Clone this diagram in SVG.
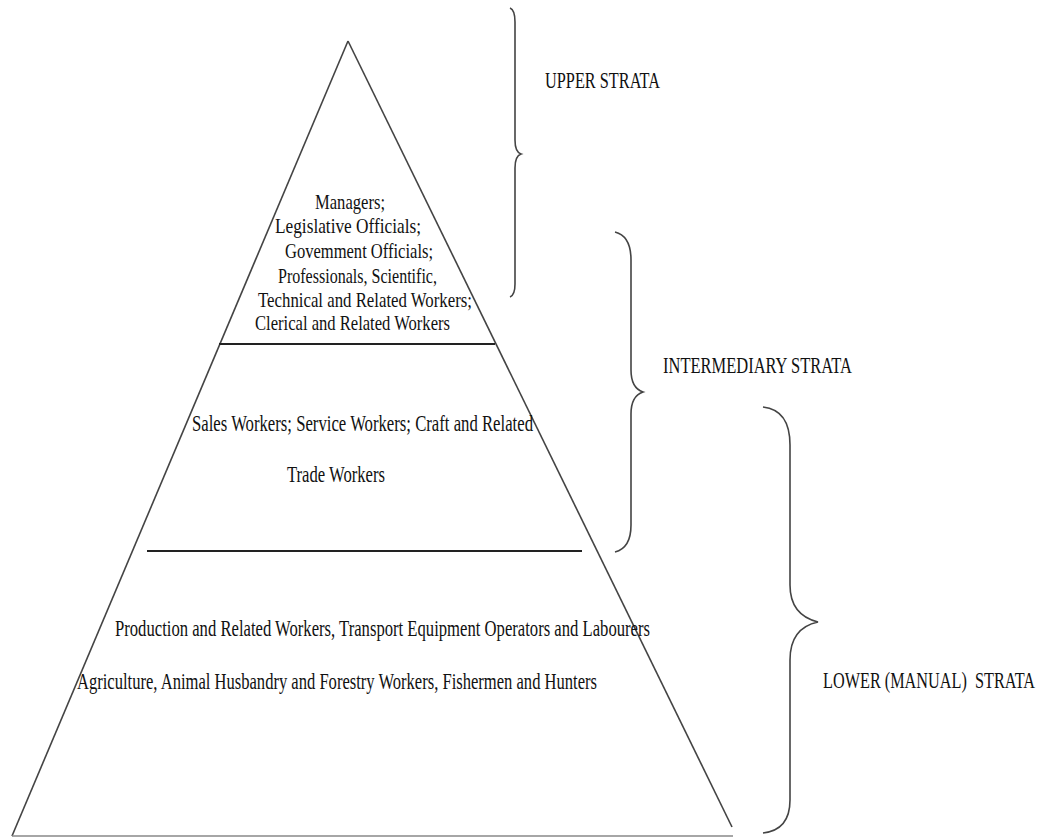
<svg xmlns="http://www.w3.org/2000/svg" width="1050" height="837" viewBox="0 0 1050 837">
<style>
.t{font-family:"Liberation Serif","Times New Roman",serif;font-size:24px;fill:#111;}
.u{font-size:22px;}
.edge{stroke:#444;stroke-width:1.6;fill:none;}
.div{stroke:#222;stroke-width:2.2;fill:none;}
.brace{stroke:#444;stroke-width:1.6;fill:none;}
</style>
<rect width="1050" height="837" fill="#fff"/>
<g id="pyramid">
<line class="edge" x1="348" y1="41" x2="12" y2="836"/>
<line class="edge" x1="348" y1="41" x2="732" y2="827"/>
<line x1="12" y1="836" x2="733" y2="836" stroke="#888" stroke-width="1.6"/>
<line class="div" x1="219" y1="344" x2="495" y2="344"/>
<line class="div" x1="147" y1="551" x2="582" y2="551"/>
</g>
<g id="tier-upper">
<text class="t u" x="315" y="209" textLength="70" lengthAdjust="spacingAndGlyphs">Managers;</text>
<text class="t u" x="275" y="233" textLength="146" lengthAdjust="spacingAndGlyphs">Legislative Officials;</text>
<text class="t u" x="285" y="258" textLength="148" lengthAdjust="spacingAndGlyphs">Govemment Officials;</text>
<text class="t u" x="278" y="283" textLength="159" lengthAdjust="spacingAndGlyphs">Professionals, Scientific,</text>
<text class="t u" x="258" y="307" textLength="214" lengthAdjust="spacingAndGlyphs">Technical and Related Workers;</text>
<text class="t u" x="255" y="330" textLength="195" lengthAdjust="spacingAndGlyphs">Clerical and Related Workers</text>
</g>
<g id="tier-intermediary">
<text class="t" x="192" y="431" textLength="341" lengthAdjust="spacingAndGlyphs">Sales Workers; Service Workers; Craft and Related</text>
<text class="t" x="287" y="482" textLength="98" lengthAdjust="spacingAndGlyphs">Trade Workers</text>
</g>
<g id="tier-lower">
<text class="t" x="115" y="636" textLength="535" lengthAdjust="spacingAndGlyphs">Production and Related Workers, Transport Equipment Operators and Labourers</text>
<text class="t" x="77" y="689" textLength="520" lengthAdjust="spacingAndGlyphs">Agriculture,  Animal Husbandry and Forestry Workers, Fishermen and Hunters</text>
</g>
<g id="connectors">
<path class="brace" d="M510,8 Q515,10 515,22 L515,140 Q515,152 521,154 Q515,156 515,168 L515,284 Q515,295 510,297"/>
<path class="brace" d="M615,232 Q631,236 631,260 L631,370 Q631,388 643,392 Q631,396 631,414 L631,525 Q631,548 615,552"/>
<path class="brace" d="M763,407 Q790,410 790,445 L790,585 Q790,615 818,622 Q790,628 790,660 L790,800 Q790,830 763,833"/>
</g>
<g id="label-upper">
<text class="t" x="545" y="88" textLength="115" lengthAdjust="spacingAndGlyphs">UPPER STRATA</text>
</g>
<g id="label-intermediary">
<text class="t" x="663" y="373" textLength="189" lengthAdjust="spacingAndGlyphs">INTERMEDIARY STRATA</text>
</g>
<g id="label-lower">
<text class="t" x="823" y="688" textLength="212" lengthAdjust="spacingAndGlyphs" xml:space="preserve">LOWER (MANUAL)  STRATA</text>
</g>
</svg>
